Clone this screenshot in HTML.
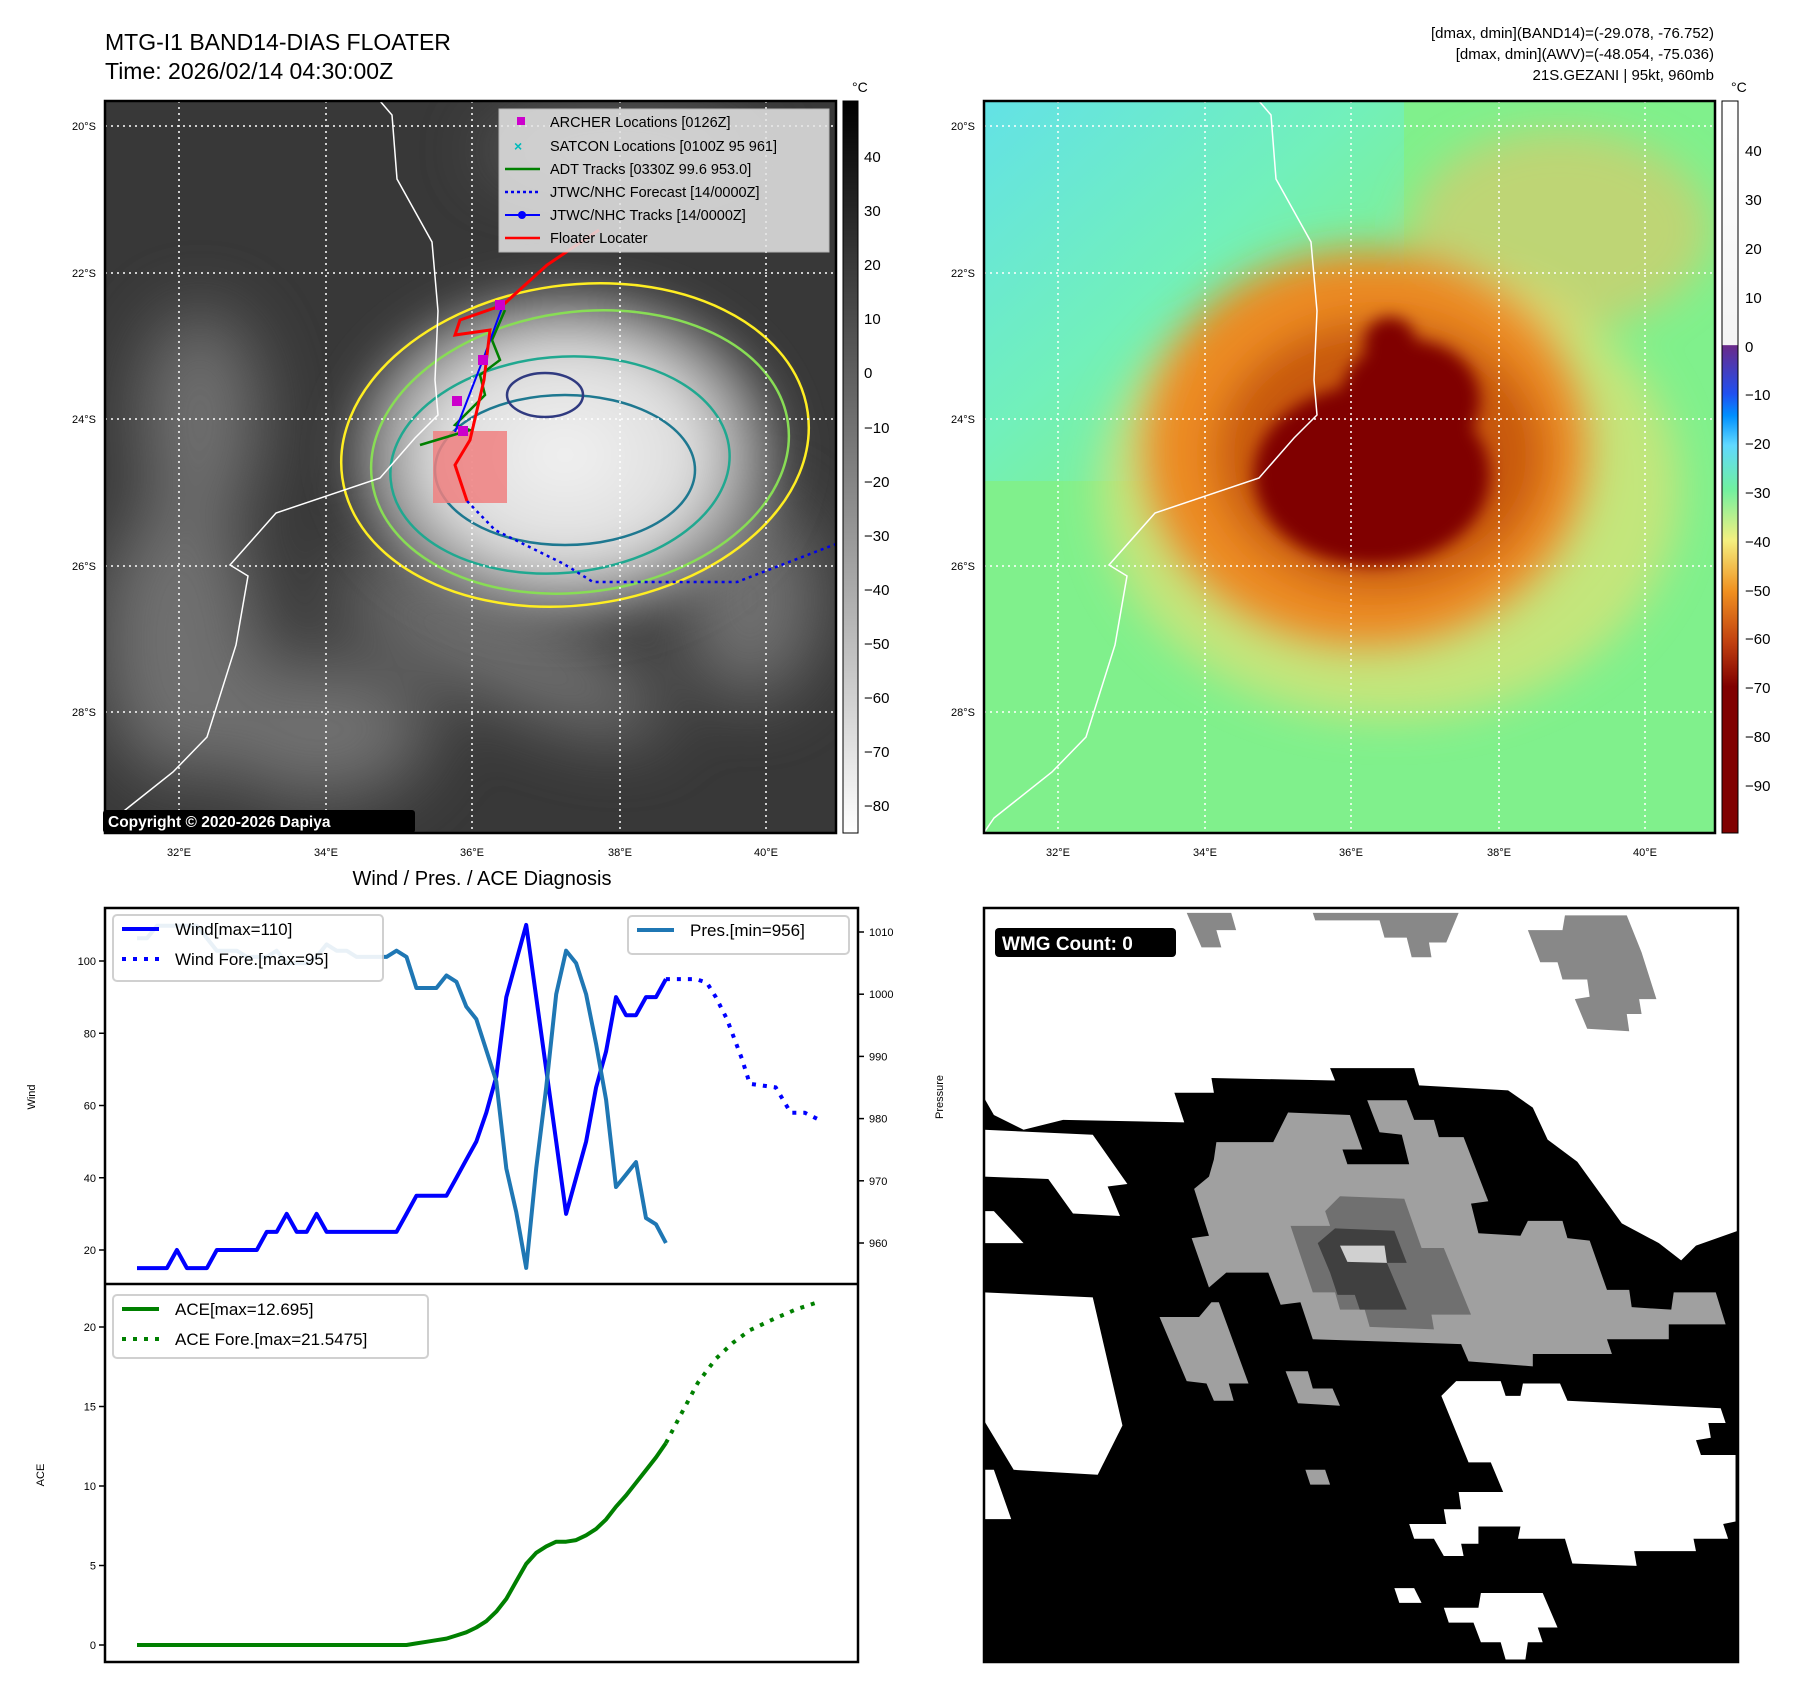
<!DOCTYPE html>
<html><head><meta charset="utf-8"><style>
body{margin:0;background:#fff;width:1797px;height:1690px;overflow:hidden;font-family:"Liberation Sans",sans-serif;}
svg text{font-family:"Liberation Sans",sans-serif;}
</style></head><body>
<svg width="1797" height="1690" xmlns="http://www.w3.org/2000/svg">
<defs>
<filter id="b8"><feGaussianBlur stdDeviation="8"/></filter>
<filter id="b20"><feGaussianBlur stdDeviation="20"/></filter>
<filter id="b35"><feGaussianBlur stdDeviation="35"/></filter>
<clipPath id="c1"><rect x="105" y="101" width="731" height="732"/></clipPath>
<clipPath id="c2"><rect x="984" y="101" width="731" height="732"/></clipPath>
<linearGradient id="cb1" x1="0" y1="0" x2="0" y2="1"><stop offset="0" stop-color="#000"/><stop offset="1" stop-color="#fff"/></linearGradient>
<linearGradient id="cb2" x1="0" y1="0" x2="0" y2="1">
<stop offset="0" stop-color="#fff"/><stop offset="0.333" stop-color="#f4f4f4"/><stop offset="0.334" stop-color="#6a2a8a"/>
<stop offset="0.40" stop-color="#2050f0"/><stop offset="0.43" stop-color="#0090ff"/><stop offset="0.47" stop-color="#60d8ff"/>
<stop offset="0.53" stop-color="#70f0a0"/><stop offset="0.60" stop-color="#f4f080"/><stop offset="0.67" stop-color="#f09020"/>
<stop offset="0.74" stop-color="#c04010"/><stop offset="0.80" stop-color="#800000"/><stop offset="1" stop-color="#800000"/></linearGradient>
<radialGradient id="cloud" cx="0.5" cy="0.5" r="0.5"><stop offset="0" stop-color="#f2f2f2"/><stop offset="0.55" stop-color="#dcdcdc"/><stop offset="0.8" stop-color="#a0a0a0" stop-opacity="0.8"/><stop offset="1" stop-color="#606060" stop-opacity="0"/></radialGradient>
<linearGradient id="tl" x1="0" y1="0" x2="1" y2="1"><stop offset="0" stop-color="#60e0f0"/><stop offset="0.45" stop-color="#70f0c0"/><stop offset="1" stop-color="#80f090" stop-opacity="0"/></linearGradient>
</defs>

<text x="105" y="50" font-size="23">MTG-I1 BAND14-DIAS FLOATER</text>
<text x="105" y="79" font-size="23">Time: 2026/02/14 04:30:00Z</text>
<g font-size="15" text-anchor="end">
<text x="1714" y="38">[dmax, dmin](BAND14)=(-29.078, -76.752)</text>
<text x="1714" y="59">[dmax, dmin](AWV)=(-48.054, -75.036)</text>
<text x="1714" y="80">21S.GEZANI | 95kt, 960mb</text>
</g>

<g clip-path="url(#c1)">
<rect x="105" y="101" width="731" height="732" fill="#383838"/>
<g filter="url(#b35)" fill="#7a7a7a" opacity="0.85">
<ellipse cx="200" cy="420" rx="60" ry="110"/>
<ellipse cx="180" cy="640" rx="80" ry="140"/>
<ellipse cx="320" cy="730" rx="110" ry="70"/>
<ellipse cx="500" cy="650" rx="180" ry="50" transform="rotate(25 500 650)"/>
<ellipse cx="620" cy="150" rx="140" ry="25"/>
<ellipse cx="750" cy="600" rx="70" ry="100"/>
</g>
<ellipse cx="565" cy="455" rx="240" ry="185" fill="url(#cloud)" filter="url(#b20)"/>
<g fill="none" stroke-width="2.5">
<ellipse cx="575" cy="445" rx="235" ry="160" stroke="#ffee22" transform="rotate(-8 575 445)"/>
<ellipse cx="580" cy="452" rx="210" ry="140" stroke="#88dd55" transform="rotate(-8 580 452)"/>
<ellipse cx="560" cy="465" rx="170" ry="108" stroke="#20a890" transform="rotate(-5 560 465)"/>
<ellipse cx="565" cy="470" rx="130" ry="75" stroke="#1e7890"/>
<ellipse cx="545" cy="395" rx="38" ry="22" stroke="#303a80"/>
</g>
<g stroke="#fff" stroke-width="1.5" stroke-dasharray="2,4">
<line x1="179" y1="101" x2="179" y2="833"/><line x1="326" y1="101" x2="326" y2="833"/><line x1="472" y1="101" x2="472" y2="833"/><line x1="620" y1="101" x2="620" y2="833"/><line x1="766" y1="101" x2="766" y2="833"/>
<line x1="105" y1="126" x2="836" y2="126"/><line x1="105" y1="273" x2="836" y2="273"/><line x1="105" y1="419" x2="836" y2="419"/><line x1="105" y1="566" x2="836" y2="566"/><line x1="105" y1="712" x2="836" y2="712"/>
</g>
<polyline fill="none" stroke="#fff" stroke-width="1.5" points="380,101 392,115 397,179 432,242 438,311 435,380 438,415 415,438 380,478 276,513 230,565 248,576 236,645 207,737 173,772 115,818 100,840"/>
<rect x="433" y="431" width="74" height="72" fill="#f08080" opacity="0.85"/>
<polyline fill="none" stroke="#0000ee" stroke-width="2.5" stroke-dasharray="3,4" points="467,501 495,530 564,564 593,582 737,582 836,544"/>
<polyline fill="none" stroke="#008000" stroke-width="2.5" points="420,445 470,430 455,425 485,395 480,375 500,360 492,340 505,310"/>
<polyline fill="none" stroke="#0000ff" stroke-width="2" points="455,432 484,357 503,305 547,265 599,230"/>
<polyline fill="none" stroke="#ff0000" stroke-width="3" points="467,501 455,465 470,440 484,380 490,330 455,335 460,320 503,305 547,265 599,230"/>
<g fill="#cc00cc"><rect x="452" y="396" width="10" height="10"/><rect x="478" y="355" width="10" height="10"/><rect x="495" y="300" width="10" height="10"/><rect x="458" y="426" width="10" height="10"/></g>
</g>
<rect x="105" y="101" width="731" height="732" fill="none" stroke="#000" stroke-width="2.5"/>
<g>
<rect x="499" y="109" width="330" height="143" fill="#e6e6e6" opacity="0.85" stroke="#ccc"/>
<g font-size="14.5">
<rect x="517" y="117" width="8" height="8" fill="#cc00cc"/><text x="550" y="127">ARCHER Locations [0126Z]</text>
<text x="514" y="151" fill="#00bbbb" font-size="14" font-weight="bold">×</text><text x="550" y="151">SATCON Locations [0100Z 95 961]</text>
<line x1="505" y1="169" x2="540" y2="169" stroke="#008000" stroke-width="2.5"/><text x="550" y="174">ADT Tracks [0330Z 99.6 953.0]</text>
<line x1="505" y1="192" x2="540" y2="192" stroke="#0000ee" stroke-width="2.5" stroke-dasharray="3,3"/><text x="550" y="197">JTWC/NHC Forecast [14/0000Z]</text>
<line x1="505" y1="215" x2="540" y2="215" stroke="#0000ff" stroke-width="2"/><circle cx="522" cy="215" r="4" fill="#0000ff"/><text x="550" y="220">JTWC/NHC Tracks [14/0000Z]</text>
<line x1="505" y1="238" x2="540" y2="238" stroke="#ff0000" stroke-width="2.5"/><text x="550" y="243">Floater Locater</text>
</g></g>
<g><rect x="103" y="810" width="312" height="23" fill="#000" rx="3"/><text x="108" y="827" fill="#fff" font-size="15.5" font-weight="bold">Copyright © 2020-2026 Dapiya</text></g>
<g font-size="11" text-anchor="end"><text x="96" y="130">20°S</text><text x="96" y="277">22°S</text><text x="96" y="423">24°S</text><text x="96" y="570">26°S</text><text x="96" y="716">28°S</text></g>
<g font-size="11" text-anchor="middle"><text x="179" y="856">32°E</text><text x="326" y="856">34°E</text><text x="472" y="856">36°E</text><text x="620" y="856">38°E</text><text x="766" y="856">40°E</text></g>
<rect x="843" y="101" width="15" height="732" fill="url(#cb1)" stroke="#000"/>
<text x="852" y="92" font-size="14">°C</text>
<g font-size="15">
<text x="864" y="162">40</text><text x="864" y="216">30</text><text x="864" y="270">20</text><text x="864" y="324">10</text><text x="864" y="378">0</text><text x="864" y="433">−10</text><text x="864" y="487">−20</text><text x="864" y="541">−30</text><text x="864" y="595">−40</text><text x="864" y="649">−50</text><text x="864" y="703">−60</text><text x="864" y="757">−70</text><text x="864" y="811">−80</text></g>

<g clip-path="url(#c2)">
<rect x="984" y="101" width="731" height="732" fill="#80f08c"/>
<rect x="984" y="101" width="420" height="380" fill="url(#tl)" opacity="0.9"/>
<g filter="url(#b20)">
<ellipse cx="1560" cy="230" rx="150" ry="100" fill="#f0c060" opacity="0.55"/>
<ellipse cx="1390" cy="490" rx="290" ry="230" fill="#f0e070" opacity="0.6"/>
<ellipse cx="1366" cy="450" rx="225" ry="200" fill="#ec8a20"/>
<ellipse cx="1380" cy="455" rx="165" ry="135" fill="#c85810"/>
</g>
<g filter="url(#b8)" fill="#800000">
<ellipse cx="1372" cy="475" rx="118" ry="90"/>
<ellipse cx="1410" cy="400" rx="70" ry="60"/>
<circle cx="1390" cy="343" r="26"/>
</g>
<g stroke="#fff" stroke-width="1.5" stroke-dasharray="2,4">
<line x1="1058" y1="101" x2="1058" y2="833"/><line x1="1205" y1="101" x2="1205" y2="833"/><line x1="1351" y1="101" x2="1351" y2="833"/><line x1="1499" y1="101" x2="1499" y2="833"/><line x1="1645" y1="101" x2="1645" y2="833"/>
<line x1="984" y1="126" x2="1715" y2="126"/><line x1="984" y1="273" x2="1715" y2="273"/><line x1="984" y1="419" x2="1715" y2="419"/><line x1="984" y1="566" x2="1715" y2="566"/><line x1="984" y1="712" x2="1715" y2="712"/>
</g>
<polyline fill="none" stroke="#fff" stroke-width="1.5" points="1259,101 1271,115 1276,179 1311,242 1317,311 1314,380 1317,415 1294,438 1259,478 1155,513 1109,565 1127,576 1115,645 1086,737 1052,772 994,818 979,840"/>
</g>
<rect x="984" y="101" width="731" height="732" fill="none" stroke="#000" stroke-width="2.5"/>
<g font-size="11" text-anchor="end"><text x="975" y="130">20°S</text><text x="975" y="277">22°S</text><text x="975" y="423">24°S</text><text x="975" y="570">26°S</text><text x="975" y="716">28°S</text></g>
<g font-size="11" text-anchor="middle"><text x="1058" y="856">32°E</text><text x="1205" y="856">34°E</text><text x="1351" y="856">36°E</text><text x="1499" y="856">38°E</text><text x="1645" y="856">40°E</text></g>
<rect x="1722" y="101" width="16" height="732" fill="url(#cb2)" stroke="#000"/>
<text x="1731" y="92" font-size="14">°C</text>
<g font-size="15">
<text x="1745" y="156">40</text><text x="1745" y="205">30</text><text x="1745" y="254">20</text><text x="1745" y="303">10</text><text x="1745" y="352">0</text><text x="1745" y="400">−10</text><text x="1745" y="449">−20</text><text x="1745" y="498">−30</text><text x="1745" y="547">−40</text><text x="1745" y="596">−50</text><text x="1745" y="644">−60</text><text x="1745" y="693">−70</text><text x="1745" y="742">−80</text><text x="1745" y="791">−90</text></g>

<svg x="984" y="908" width="754" height="754" viewBox="0 0 1525 1530" preserveAspectRatio="none">
<rect width="1525" height="1530" fill="#000"/>
<g fill="#fff">
<polygon points="0,0 1525,0 1525,655 1440,685 1410,715 1365,680 1290,640 1200,515 1140,470 1110,405 1060,370 880,360 870,325 700,325 710,350 460,345 465,375 385,375 405,435 160,430 80,450 20,420 0,385"/>
<polygon points="0,450 220,460 290,560 250,565 275,625 180,620 130,550 0,545"/>
<polygon points="0,615 20,615 80,680 0,680"/>
<polygon points="0,780 220,790 280,1050 230,1150 60,1140 0,1040"/>
<polygon points="0,1140 20,1140 55,1240 0,1240"/>
<polygon points="955,960 1045,960 1055,990 1085,990 1090,965 1165,965 1180,1000 1490,1015 1500,1045 1465,1045 1470,1075 1440,1080 1450,1110 1520,1110 1520,1245 1495,1250 1505,1280 1435,1280 1440,1305 1315,1305 1320,1335 1190,1330 1175,1280 1080,1280 1085,1255 1000,1255 1000,1290 965,1290 970,1315 930,1315 910,1280 870,1280 860,1250 935,1250 930,1220 965,1220 960,1185 1050,1185 1025,1125 980,1125 925,990"/>
<polygon points="830,1380 870,1380 885,1410 840,1410"/>
<polygon points="930,1420 1000,1420 1005,1390 1130,1390 1160,1460 1120,1460 1130,1490 1100,1490 1095,1525 1055,1525 1045,1490 1005,1490 990,1450 940,1450"/>
</g>
<g fill="#888">
<polygon points="410,10 500,10 510,45 470,45 480,80 440,80"/>
<polygon points="665,10 960,10 935,70 900,70 905,100 865,100 855,60 810,60 800,25 670,25"/>
<polygon points="1100,45 1170,45 1175,15 1300,15 1330,90 1360,185 1325,185 1330,215 1300,215 1305,250 1220,245 1195,185 1225,180 1220,145 1170,145 1160,110 1125,110"/>
</g>
<g fill="#a0a0a0">
<polygon points="470,475 585,475 615,415 740,420 765,490 725,490 735,520 860,520 845,460 800,455 775,390 855,390 870,430 910,430 920,465 970,465 1020,595 985,600 1000,660 1085,665 1100,635 1170,635 1180,670 1225,675 1260,775 1305,775 1310,810 1390,815 1395,780 1480,780 1500,845 1385,845 1385,875 1260,875 1270,905 1110,905 1110,930 980,920 965,885 665,875 640,800 600,805 575,740 490,740 455,770 420,670 455,665 425,570 455,545 465,510"/>
<polygon points="355,830 435,830 460,800 475,800 535,965 495,965 505,1000 465,1000 450,965 410,960"/>
<polygon points="610,940 655,940 665,975 705,975 720,1010 635,1005"/>
<polygon points="650,1140 690,1140 700,1170 660,1170"/>
</g>
<polygon fill="#707070" points="620,645 700,645 690,615 720,585 850,590 885,690 930,690 985,825 905,825 910,855 780,850 770,815 720,815 710,780 665,780"/>
<polygon fill="#404040" points="675,680 710,650 830,655 855,720 815,720 855,815 760,815 750,785 715,785 700,740"/>
<polygon fill="#d0d0d0" points="720,685 810,685 815,720 735,718"/>
</svg>
<rect x="984" y="908" width="754" height="754" fill="none" stroke="#000" stroke-width="2.5"/>
<g><rect x="995" y="928" width="181" height="29" rx="4" fill="#000"/><text x="1002" y="950" fill="#fff" font-size="19" font-weight="bold">WMG Count: 0</text></g>

<text x="482" y="885" font-size="20" text-anchor="middle">Wind / Pres. / ACE Diagnosis</text>
<g id="chart"></g>
<rect x="105" y="908" width="753" height="754" fill="none" stroke="#000" stroke-width="2.5"/>
<line x1="105" y1="1284" x2="858" y2="1284" stroke="#000" stroke-width="2.5"/>
</svg>
<script>
const windVals=[15,15,15,15,20,15,15,15,20,20,20,20,20,25,25,30,25,25,30,25,25,25,25,25,25,25,25,30,35,35,35,35,40,45,50,58,68,90,100,110,90,70,50,30,40,50,65,75,90,85,85,90,90,95];
const presVals=[1009,1009,1011,1011,1011,1011,1011,1009,1007,1007,1007,1006,1006,1006,1007,1005,1005,1005,1006,1008,1007,1007,1006,1006,1006,1006,1007,1006,1001,1001,1001,1003,1002,998,996,991,986,972,965,956,972,985,1000,1007,1005,1000,992,983,969,971,973,964,963,960];
const aceVals=[0,0,0,0,0,0,0,0,0,0,0,0,0,0,0,0,0,0,0,0,0,0,0,0,0,0,0,0,0.1,0.2,0.3,0.4,0.6,0.8,1.1,1.5,2.1,2.9,4,5.1,5.8,6.2,6.5,6.5,6.6,6.9,7.3,7.9,8.7,9.4,10.2,11,11.8,12.7];
const windFcIdx=[53,56,57.1,58,59.1,60.6,61.4,64,65.5,66.9,68.4];
const windFcVals=[95,95,94,90,84,73,66,65,58,58,56];
const aceFcIdx=[53,54.5,56.2,58,59.7,61.4,63.8,66,68.4];
const aceFcVals=[12.7,14.5,16.5,18,19,19.8,20.5,21.1,21.6];
const windTicks=[20,40,60,80,100];
const presTicks=[960,970,980,990,1000,1010];
const aceTicks=[0,5,10,15,20];
const NS='http://www.w3.org/2000/svg';
const g=document.getElementById('chart');
const X=i=>137+i*9.98;
const YW=v=>1250-(v-20)*3.6125;
const YP=v=>1243-(v-960)*6.22;
const YA=v=>1645-v*15.9;
function mk(t,a){const e=document.createElementNS(NS,t);for(const k in a)e.setAttribute(k,a[k]);g.appendChild(e);return e;}
function line(xs,ys,col,dash,nm){const p=xs.map((x,i)=>X(x).toFixed(1)+','+ys[i].toFixed(1)).join(' ');
const e=mk('polyline',{points:p,fill:'none',stroke:col,'stroke-width':4,'stroke-linejoin':'round'});if(dash)e.setAttribute('stroke-dasharray',dash);

}
const idx=windVals.map((_,i)=>i);
line(idx,windVals.map(YW),'#0000ff',null,'wind-line');
line(windFcIdx,windFcVals.map(YW),'#0000ff','4,7','wind-forecast-line');
line(idx,presVals.map(YP),'#1f77b4',null,'pressure-line');
line(idx,aceVals.map(YA),'#008000',null,'ace-line');
line(aceFcIdx,aceFcVals.map(YA),'#008000','4,7','ace-forecast-line');
function ticks(arr,fy,side){arr.forEach(v=>{const y=fy(v);
if(side==='l'){mk('line',{x1:99,x2:105,y1:y,y2:y,stroke:'#000','stroke-width':1.5});const t=mk('text',{x:96,y:y+4,'font-size':11,'text-anchor':'end'});t.textContent=v;

}
else{mk('line',{x1:858,x2:864,y1:y,y2:y,stroke:'#000','stroke-width':1.5});const t=mk('text',{x:869,y:y+4,'font-size':11});t.textContent=v;

}});}
ticks(windTicks,YW,'l');ticks(presTicks,YP,'r');ticks(aceTicks,YA,'l');
function vlabel(txt,x,y,nm){const t=mk('text',{x:x,y:y,'font-size':11,'text-anchor':'middle',transform:`rotate(-90 ${x} ${y})`});t.textContent=txt;

}
vlabel('Wind',35,1097,'wind-axis-title');vlabel('Pressure',943,1097,'pressure-axis-title');vlabel('ACE',44,1475,'ace-axis-title');
function legend(x,y,w,h,items,nm){const r=mk('rect',{x:x,y:y,width:w,height:h,rx:4,fill:'#fff',stroke:'#ccc','stroke-width':2,opacity:0.9});


items.forEach((it,k)=>{const yy=y+19+k*30;const l=mk('line',{x1:x+9,x2:x+46,y1:yy-5,y2:yy-5,stroke:it[1],'stroke-width':4});if(it[2])l.setAttribute('stroke-dasharray','4,7');
const t=mk('text',{x:x+62,y:yy+1,'font-size':17});t.textContent=it[0];});}
legend(113,915,270,66,[['Wind[max=110]','#0000ff',0],['Wind Fore.[max=95]','#0000ff',1]],'wind-legend');
legend(628,916,221,38,[['Pres.[min=956]','#1f77b4',0]],'pressure-legend');
legend(113,1295,315,63,[['ACE[max=12.695]','#008000',0],['ACE Fore.[max=21.5475]','#008000',1]],'ace-legend');
</script>
</body></html>
